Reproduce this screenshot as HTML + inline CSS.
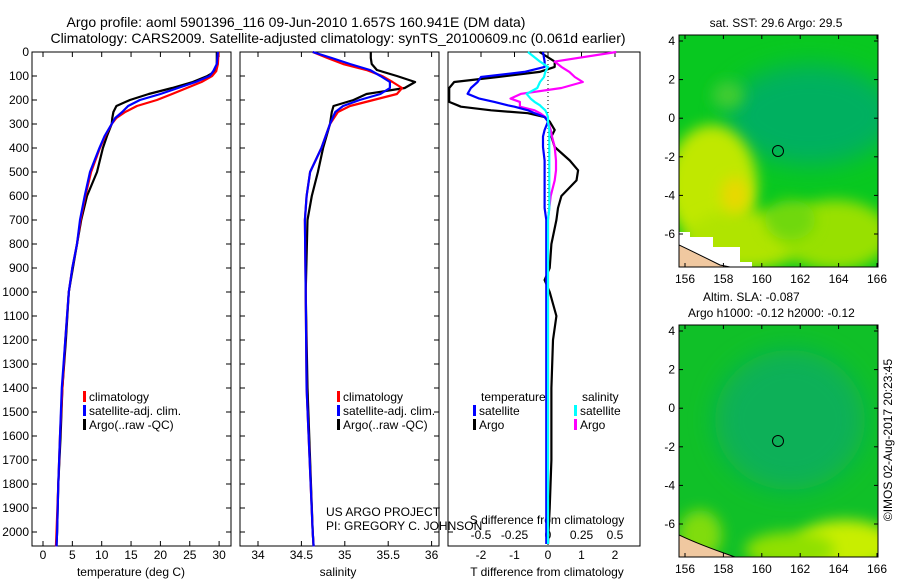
<!DOCTYPE html>
<html><head><meta charset="utf-8"><style>
body{margin:0;background:#fff}
svg{display:block;font-family:"Liberation Sans",sans-serif}
</style></head><body>
<svg id="c" width="900" height="580" viewBox="0 0 900 580">
<defs>
<filter id="bl" x="-50%" y="-50%" width="200%" height="200%"><feGaussianBlur stdDeviation="7"/></filter>
<filter id="bl2" x="-50%" y="-50%" width="200%" height="200%"><feGaussianBlur stdDeviation="12"/></filter>
<clipPath id="m1"><rect x="679" y="35" width="199" height="232"/></clipPath>
<clipPath id="m2"><rect x="679" y="325" width="199" height="232"/></clipPath>
</defs>
<text x="296" y="27" font-size="14" text-anchor="middle">Argo profile: aoml 5901396_116 09-Jun-2010 1.657S 160.941E (DM data)</text>
<text x="338" y="43" font-size="14" text-anchor="middle">Climatology: CARS2009. Satellite-adjusted climatology: synTS_20100609.nc (0.061d earlier)</text>
<g id="maps">
<g clip-path="url(#m1)">
<rect x="679" y="35" width="199" height="232" fill="#08c820"/>
<ellipse cx="810" cy="115" rx="85" ry="50" fill="#00b060" filter="url(#bl2)"/>
<ellipse cx="712" cy="185" rx="45" ry="60" fill="#c0e800" filter="url(#bl)"/>
<ellipse cx="745" cy="240" rx="60" ry="30" fill="#b0e400" filter="url(#bl)"/>
<ellipse cx="835" cy="235" rx="55" ry="35" fill="#98e000" filter="url(#bl)"/>
<ellipse cx="790" cy="220" rx="25" ry="20" fill="#70d810" filter="url(#bl)"/>
<ellipse cx="735" cy="195" rx="14" ry="18" fill="#e8d800" filter="url(#bl)"/>
<ellipse cx="728" cy="95" rx="16" ry="14" fill="#40cc30" filter="url(#bl)"/>
<polygon points="679,232 690,232 690,237 713,237 713,247 740,247 740,262 752,262 752,267 679,267" fill="#fff"/>
<path d="M679,245 Q700,255 720,265 L730,267 L679,267Z" fill="#f0c8a0" stroke="#000" stroke-width="1"/>
</g>
<rect x="679" y="35" width="199" height="232" fill="none" stroke="#000"/>
<circle cx="778" cy="151" r="5.5" fill="none" stroke="#000"/>
<g clip-path="url(#m2)">
<rect x="679" y="325" width="199" height="232" fill="#10c028"/>
<ellipse cx="790" cy="420" rx="75" ry="70" fill="#10b058" filter="url(#bl2)"/>
<ellipse cx="845" cy="545" rx="50" ry="25" fill="#c8ee00" filter="url(#bl)"/>
<ellipse cx="790" cy="550" rx="45" ry="18" fill="#90e000" filter="url(#bl)"/>
<ellipse cx="700" cy="535" rx="22" ry="25" fill="#80dc10" filter="url(#bl)"/>
<path d="M679,535 Q700,545 735,557 L679,557Z" fill="#f0c8a0" stroke="#000" stroke-width="1"/>
</g>
<rect x="679" y="325" width="199" height="232" fill="none" stroke="#000"/>
<circle cx="778" cy="441" r="5.5" fill="none" stroke="#000"/>
<text x="776" y="27" font-size="12" text-anchor="middle">sat. SST: 29.6 Argo: 29.5</text>
<text x="703" y="301" font-size="12">Altim. SLA: -0.087</text>
<text x="688" y="317" font-size="12">Argo h1000: -0.12 h2000: -0.12</text>
<text transform="translate(892,440) rotate(-90)" font-size="12" text-anchor="middle">©IMOS 02-Aug-2017 20:23:45</text>
</g>
<g id="plot"></g>
</svg>
<script>
// ---- data ----
const tempDepth = [0,50,80,100,125,150,175,200,225,250,275,300,350,400,500,600,700,800,900,1000,1200,1400,1600,1800,2000,2060];
const tempClim  = [29.9,29.8,29.5,28.8,27,24.5,22,19.4,16,14,12.5,11.7,10.6,9.7,8.2,7.2,6.4,5.8,5.0,4.4,3.8,3.3,2.9,2.6,2.3,2.2];
const tempSat   = [29.8,29.6,29.0,28.4,26,23,20,16.5,14.5,13.5,12.3,11.7,10.5,9.6,8.0,7.1,6.3,5.8,5.0,4.4,3.8,3.2,2.9,2.6,2.4,2.3];
const tempArgo  = [29.6,29.6,29.4,28.0,25.5,22,18,14.8,12.5,12,11.8,11.7,10.9,10.2,9.2,7.5,6.5,5.8,5.1,4.4,3.9,3.3,3.0,2.6,2.4,2.3];
const salDepth = [0,25,50,75,100,125,150,175,200,225,250,300,400,500,600,700,1000,1400,2000,2060];
const salClim  = [34.63,34.80,34.98,35.25,35.43,35.55,35.66,35.60,35.33,35.06,34.92,34.83,34.73,34.60,34.56,34.54,34.55,34.56,34.63,34.64];
const salSat   = [34.63,34.85,35.06,35.29,35.41,35.52,35.52,35.41,35.17,34.98,34.89,34.83,34.73,34.60,34.56,34.54,34.55,34.56,34.63,34.64];
const salArgo  = [35.30,35.30,35.31,35.37,35.60,35.81,35.69,35.25,35.10,34.87,34.85,34.83,34.75,34.69,34.62,34.57,34.55,34.57,34.63,34.64];
const dDepth = [0,40,62,83,104,125,150,174,194,208,222,228,243,255,271,290,325,352,396,452,493,535,600,650,700,800,900,950,1000,1100,1200,1400,1700,1900,2050];
const dTsat  = [-0.15,-0.1,-0.1,-0.7,-2.0,-2.1,-2.3,-2.4,-2.05,-1.6,-1.2,-1.0,-0.6,-0.4,-0.1,0,-0.1,-0.15,-0.15,-0.1,-0.1,-0.1,-0.1,-0.1,-0.05,-0.05,-0.05,-0.05,-0.05,-0.05,-0.05,-0.05,-0.05,-0.05,-0.05];
const dTargo = [-0.25,0.2,0.2,-0.25,-1.5,-2.8,-2.95,-2.95,-2.95,-2.95,-2.7,-2.6,-1.7,-0.6,-0.1,0.05,0.2,0.1,0.2,0.65,0.9,0.85,0.4,0.3,0.25,0.1,0.05,-0.1,0.05,0.25,0.15,0.1,0.1,0.05,0];
const dSsat  = [-0.15,-0.06,0,-0.02,-0.03,-0.06,-0.08,-0.16,-0.13,-0.1,-0.06,-0.05,-0.02,-0.01,0,0,0.01,0.01,0.01,0.01,0.01,0.01,0.01,0.01,0,0,0,0,0,0,0,0,0,0,0];
const dSargo = [0.51,0.05,0.1,0.16,0.2,0.26,0.1,-0.2,-0.28,-0.21,-0.21,-0.21,-0.1,-0.06,-0.02,0,0.02,0.03,0.05,0.06,0.06,0.05,0.02,0.01,0,0,0,0,0,0,0,0,0,0,0];
const depthTicks = [0,100,200,300,400,500,600,700,800,900,1000,1100,1200,1300,1400,1500,1600,1700,1800,1900,2000];
const tempTicks = [0,5,10,15,20,25,30];
const salTicks = [34,34.5,35,35.5,36];
const dTTicks = [-2,-1,0,1,2];
const dSTicks = ["-0.5","-0.25","0","0.25","0.5"];
const latTicks = [4,2,0,-2,-4,-6];
const lonTicks = [156,158,160,162,164,166];

// ---- axes ----
const NS="http://www.w3.org/2000/svg";
const g=document.getElementById('plot');
const yD=d=>52+d*0.24;
const xT=v=>43+v*5.87;
const xS=v=>258+(v-34)*86.8;
const xDT=v=>548+v*33.5;
const xDS=v=>548+v*134;
const yLat1=v=>41+(4-v)*19.3, yLat2=v=>331+(4-v)*19.3;
const xLon=v=>685+(v-156)*19.2;
function mk(tag,at,parent){const e=document.createElementNS(NS,tag);for(const k in at)e.setAttribute(k,at[k]);(parent||g).appendChild(e);return e;}
function txt(x,y,s,anchor,size){const t=mk('text',{x:x,y:y,'font-size':size||12,'text-anchor':anchor||'middle'});t.textContent=s;return t;}
function line(pts,color,name){const p=mk('polyline',{points:pts.map(a=>a[0].toFixed(1)+','+a[1].toFixed(1)).join(' '),fill:'none',stroke:color,'stroke-width':2.2,'stroke-linejoin':'round'});


return p;}

const panels=[[32,231],[240,439],[448,640]];
panels.forEach((p,i)=>{const r=mk('rect',{x:p[0],y:52,width:p[1]-p[0],height:494,fill:'none',stroke:'#000','stroke-width':1});


depthTicks.forEach(d=>{if(i<2){mk('line',{x1:p[0],x2:p[0]+5,y1:yD(d),y2:yD(d),stroke:'#000'});mk('line',{x1:p[1],x2:p[1]-5,y1:yD(d),y2:yD(d),stroke:'#000'});}});});
mk('line',{x1:448,x2:453,y1:yD(2000),y2:yD(2000),stroke:'#000'});
depthTicks.forEach(d=>{const t=txt(29,yD(d)+4,String(d),'end');

});
tempTicks.forEach(v=>{mk('line',{x1:xT(v),x2:xT(v),y1:52,y2:57,stroke:'#000'});mk('line',{x1:xT(v),x2:xT(v),y1:546,y2:541,stroke:'#000'});
const t=txt(xT(v),559,String(v));

});
salTicks.forEach(v=>{mk('line',{x1:xS(v),x2:xS(v),y1:52,y2:57,stroke:'#000'});mk('line',{x1:xS(v),x2:xS(v),y1:546,y2:541,stroke:'#000'});
const t=txt(xS(v),559,String(v));

});
dTTicks.forEach(v=>{mk('line',{x1:xDT(v),x2:xDT(v),y1:52,y2:57,stroke:'#000'});
const t=txt(xDT(v),559,String(v));

});
dSTicks.forEach(s=>{const t=txt(xDS(parseFloat(s)),539,s);

});
mk('line',{x1:548,x2:548,y1:52,y2:546,stroke:'#000','stroke-dasharray':'1,3'});
let t;
t=txt(131,576,'temperature (deg C)');
t=txt(338,576,'salinity');
t=txt(547,576,'T difference from climatology');
t=txt(547,524,'S difference from climatology');
t=txt(326,516,'US ARGO PROJECT','start');
t=txt(326,530,'PI: GREGORY C. JOHNSON','start');

// ---- series ----
line(tempDepth.map((d,i)=>[xT(tempArgo[i]),yD(d)]),'#000','temp-argo-line');
line(tempDepth.map((d,i)=>[xT(tempClim[i]),yD(d)]),'#f00','temp-clim-line');
line(tempDepth.map((d,i)=>[xT(tempSat[i]),yD(d)]),'#00f','temp-sat-line');
line(salDepth.map((d,i)=>[xS(salArgo[i]),yD(d)]),'#000','sal-argo-line');
line(salDepth.map((d,i)=>[xS(salClim[i]),yD(d)]),'#f00','sal-clim-line');
line(salDepth.map((d,i)=>[xS(salSat[i]),yD(d)]),'#00f','sal-sat-line');
line(dDepth.map((d,i)=>[xDT(dTargo[i]),yD(d)]),'#000','tdiff-argo-line');
line(dDepth.map((d,i)=>[xDS(dSargo[i]),yD(d)]),'#f0f','sdiff-argo-line');
line(dDepth.map((d,i)=>[xDT(dTsat[i]),yD(d)]),'#00f','tdiff-sat-line');
line(dDepth.map((d,i)=>[xDS(dSsat[i]),yD(d)]),'#0ff','sdiff-sat-line');

// ---- legends ----
function leg(x,y,color,label){mk('rect',{x:x,y:y-8,width:3,height:11,fill:color});const t=txt(x+6,y+2,label,'start');

}
[[83],[337]].forEach(a=>{leg(a[0],399,'#f00','climatology');leg(a[0],413,'#00f','satellite-adj. clim.');leg(a[0],427,'#000','Argo(..raw -QC)');});
t=txt(481,401,'temperature','start');
t=txt(582,401,'salinity','start');
leg(473,413,'#00f','satellite');leg(473,427,'#000','Argo');
leg(574,413,'#0ff','satellite');leg(574,427,'#f0f','Argo');

// ---- map ticks ----
[[yLat1,35,267],[yLat2,325,557]].forEach(m=>{
latTicks.forEach(v=>{const y=m[0](v);mk('line',{x1:679,x2:683,y1:y,y2:y,stroke:'#000'});mk('line',{x1:878,x2:874,y1:y,y2:y,stroke:'#000'});
const t=txt(675,y+4,String(v),'end');

});
lonTicks.forEach(v=>{const x=xLon(v);mk('line',{x1:x,x2:x,y1:m[1],y2:m[1]+4,stroke:'#000'});mk('line',{x1:x,x2:x,y1:m[2],y2:m[2]-4,stroke:'#000'});
const t=txt(x,m[2]+16,String(v));

});});
</script>
</body></html>
